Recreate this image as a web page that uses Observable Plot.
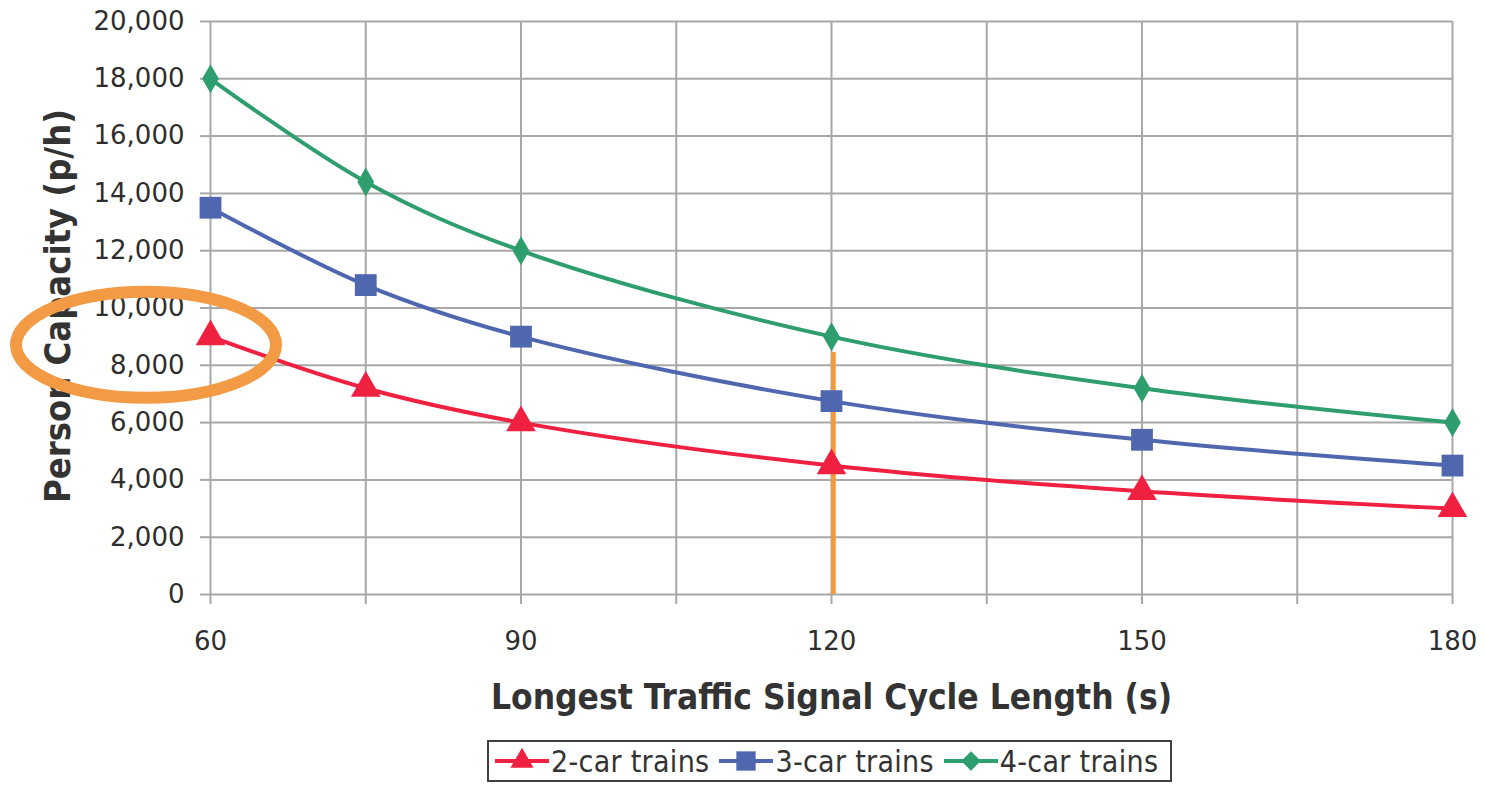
<!DOCTYPE html>
<html>
<head>
<meta charset="utf-8">
<script src="https://cdn.jsdelivr.net/npm/d3@7"></script>
<script src="https://cdn.jsdelivr.net/npm/@observablehq/plot@0.6"></script>
<style>
  html, body { margin: 0; padding: 0; background: white; }
  #wrap { position: relative; width: 1485px; height: 785px; overflow: hidden; }
  #legend {
    position: absolute; left: 487px; top: 740px; width: 681px; height: 38px;
    border: 2px solid #404040; display: flex; align-items: center;
    font-family: "DejaVu Sans Condensed", "DejaVu Sans", sans-serif; font-size: 30px; color: #333;
    box-sizing: content-box; background: white; white-space: nowrap; letter-spacing: 0.3px;
  }
  #legend .item { display: flex; align-items: center; margin-right: 8px; }
  #legend svg { display: block; }
</style>
</head>
<body>
<div id="wrap"><div id="legend"></div></div>
<script>
// ---- data ----
const cycleLengths = [60, 75, 90, 120, 150, 180];
const twoCar   = [9000, 7200, 6000, 4500, 3600, 3000];
const threeCar = [13500, 10800, 9000, 6750, 5400, 4500];
const fourCar  = [18000, 14400, 12000, 9000, 7200, 6000];
const seriesNames = ["2-car trains", "3-car trains", "4-car trains"];
const seriesColors = ["#EF2040", "#4F67AF", "#2E9E6E"];
const seriesSymbols = ["triangle", "square", "diamond"];
const xTicks = [60, 75, 90, 105, 120, 135, 150, 165, 180];
const xTickLabels = [60, 90, 120, 150, 180];
const yTicks = [0, 2000, 4000, 6000, 8000, 10000, 12000, 14000, 16000, 18000, 20000];
const xTitle = "Longest Traffic Signal Cycle Length (s)";
const yTitle = "Person Capacity (p/h)";
const markerX = 120;       // orange annotation line
const markerTop = 8450;
const circledValue = 8700; // orange ellipse around y axis

const seriesValues = [twoCar, threeCar, fourCar];
const rows = seriesNames.flatMap((name, i) =>
  cycleLengths.map((x, j) => ({series: name, x, y: seriesValues[i][j]})));

const symbolR = {"triangle": 11, "square": 12.3, "diamond": 8.8};

const colorScale = {domain: seriesNames, range: seriesColors};
const gridColor = "#a8a8a8";

const plot = Plot.plot({
  width: 1485,
  height: 740,
  marginLeft: 210,
  marginRight: 33,
  marginTop: 21,
  marginBottom: 146,
  style: {fontFamily: "DejaVu Sans, sans-serif", fontSize: "26px", background: "white", color: "#333", overflow: "visible"},
  x: {domain: [60, 180]},
  y: {domain: [0, 20000]},
  color: colorScale,
  marks: [
    Plot.gridX(xTicks, {stroke: gridColor, strokeOpacity: 1, strokeWidth: 2}),
    Plot.gridY(yTicks, {stroke: gridColor, strokeOpacity: 1, strokeWidth: 2}),
    Plot.axisX({ticks: xTicks, tickSize: 10, tickPadding: 27, label: null, stroke: gridColor, strokeWidth: 2, fill: "#2e2e2e",
      tickFormat: d => xTickLabels.includes(d) ? String(d) : ""}),
    Plot.axisY({ticks: yTicks, tickSize: 10, tickPadding: 16, label: null, stroke: gridColor, strokeWidth: 2, fill: "#2e2e2e",
      tickFormat: d3.format(",")}),
    ...seriesNames.map((name, i) =>
      Plot.line(rows.filter(r => r.series === name), {x: "x", y: "y", stroke: seriesColors[i], strokeWidth: 4, curve: "catmull-rom"})),
    Plot.ruleX([markerX], {y1: 0, y2: markerTop, stroke: "#F39A3E", strokeWidth: 4.5, dx: 2}),
    ...seriesNames.map((name, i) =>
      Plot.dot(rows.filter(r => r.series === name), {x: "x", y: "y", fill: seriesColors[i], stroke: "none",
        symbol: seriesSymbols[i], r: symbolR[seriesSymbols[i]]})),
    Plot.text([xTitle], {frameAnchor: "bottom", dy: 103, text: d => d, fontFamily: "DejaVu Sans Condensed, DejaVu Sans, sans-serif",
      fontWeight: "bold", fontSize: 35, fill: "#333", lineAnchor: "middle", textAnchor: "middle"}),
    Plot.text([yTitle], {frameAnchor: "left", dx: -152, dy: -2, rotate: -90, text: d => d, fontFamily: "DejaVu Sans Condensed, DejaVu Sans, sans-serif",
      fontWeight: "bold", fontSize: 36, fill: "#333", lineAnchor: "middle", textAnchor: "middle"})
  ]
});

const wrap = document.getElementById("wrap");
wrap.insertBefore(plot, wrap.firstChild);

// orange ellipse annotation around the y-axis labels
const ySc = plot.scale("y");
d3.select(plot).append("ellipse")
  .attr("cx", 146).attr("cy", ySc.apply(circledValue))
  .attr("rx", 130).attr("ry", 53)
  .attr("fill", "none").attr("stroke", "#F39A45").attr("stroke-width", 12);

// legend
const legend = d3.select("#legend");
const symGen = {"triangle": d3.symbolTriangle2, "square": d3.symbolSquare2, "diamond": d3.symbolDiamond2};
seriesNames.forEach((name, i) => {
  const item = legend.append("div").attr("class", "item");
  const svg = item.append("svg").attr("width", 58).attr("height", 30).style("margin-left", i === 0 ? "4px" : "0px");
  svg.append("line").attr("x1", 2).attr("x2", 56).attr("y1", 15).attr("y2", 15)
    .attr("stroke", seriesColors[i]).attr("stroke-width", 4);
  const r = symbolR[seriesSymbols[i]];
  svg.append("path").attr("transform", "translate(29,15)")
    .attr("d", d3.symbol(symGen[seriesSymbols[i]], r * r * Math.PI)())
    .attr("fill", seriesColors[i]);
  item.append("span").text(name);
});
</script>
</body>
</html>
